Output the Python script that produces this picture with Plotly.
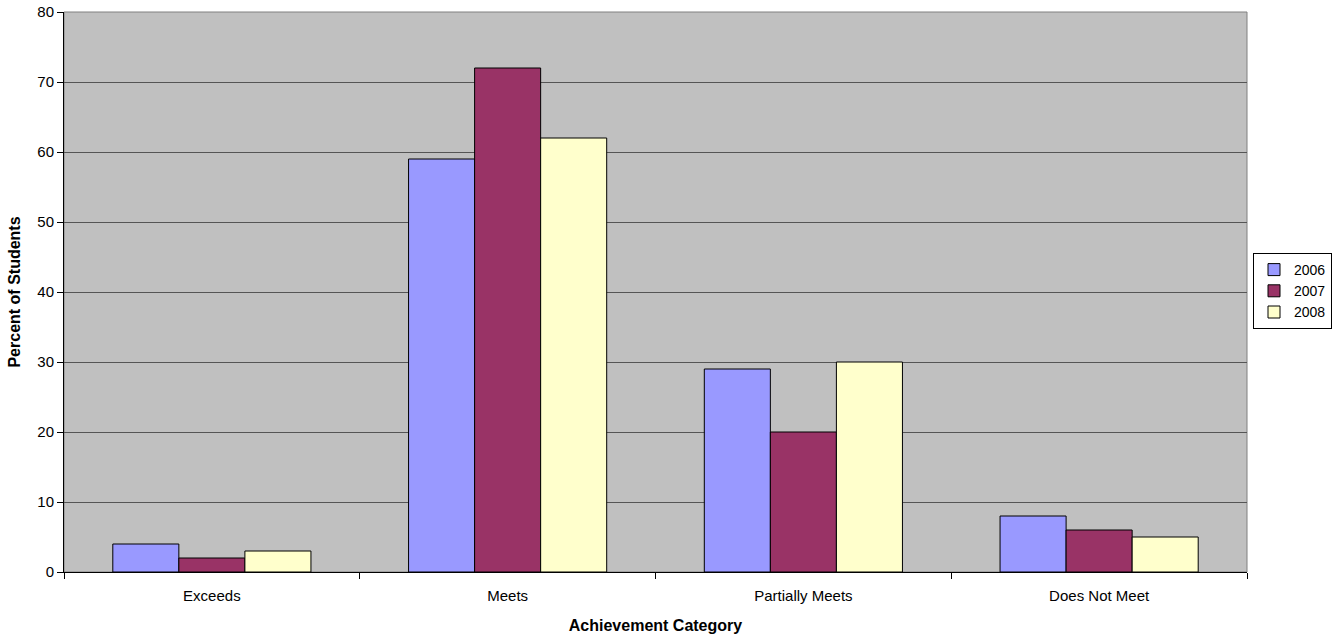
import plotly.graph_objects as go

categories = ["Exceeds", "Meets", "Partially Meets", "Does Not Meet"]
years = ["2006", "2007", "2008"]
values_2006 = [4, 59, 29, 8]
values_2007 = [2, 72, 20, 6]
values_2008 = [3, 62, 30, 5]
colors = ["#9999FF", "#993366", "#FFFFCC"]

fig = go.Figure()
for name, vals, col in zip(years, [values_2006, values_2007, values_2008], colors):
    fig.add_trace(go.Bar(x=categories, y=vals, name=name,
                         marker=dict(color=col, line=dict(color="black", width=1))))

fig.update_layout(
    width=1334, height=639,
    margin=dict(l=64, r=87, t=12, b=67),
    paper_bgcolor="white", plot_bgcolor="#C0C0C0",
    barmode="group", bargap=0.33, bargroupgap=0,
    font=dict(family="Liberation Sans, Arial, sans-serif", size=15, color="black"),
    legend=dict(xref="container", yref="container",
                x=1253 / 1334, xanchor="left", y=1 - 291 / 639, yanchor="middle",
                bordercolor="black", borderwidth=1, bgcolor="white",
                font=dict(size=14), tracegroupgap=0, itemwidth=30),
    showlegend=True,
    shapes=[dict(type="rect", xref="paper", yref="paper", x0=0, x1=1, y0=0, y1=1,
                 line=dict(color="#808080", width=1), layer="below")],
)
fig.update_xaxes(
    title=dict(text="<b>Achievement Category</b>", font=dict(size=16), standoff=16),
    showline=True, linecolor="black", linewidth=1,
    ticks="outside", tickson="boundaries", ticklen=6, tickcolor="black",
    ticklabelstandoff=10,
    showgrid=False, automargin=False,
)
fig.update_yaxes(
    title=dict(text="<b>Percent of Students</b>", font=dict(size=16), standoff=12),
    range=[0, 80], dtick=10,
    showline=True, linecolor="black", linewidth=1,
    ticks="outside", ticklen=6, tickcolor="black",
    showgrid=True, gridcolor="#555555", gridwidth=1,
    zeroline=False, automargin=False,
)
fig.write_html("out.html", config={"displayModeBar": False},
               post_script="document.body.style.margin='0';")
